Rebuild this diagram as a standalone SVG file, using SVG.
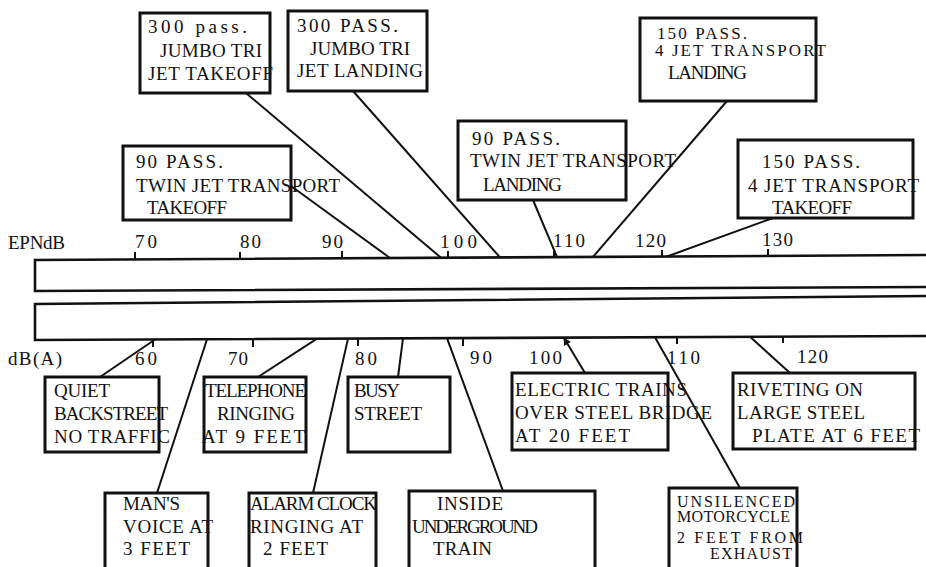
<svg xmlns="http://www.w3.org/2000/svg" width="926" height="567" viewBox="0 0 926 567">
<style>
text{font-family:"Liberation Serif","DejaVu Serif",serif;font-size:19px;fill:#111}
.sm{font-size:16px}
.md{font-size:17px}
.box{fill:#fff;stroke:#111;stroke-width:3}
.bar{fill:#fff;stroke:#111;stroke-width:2.6;stroke-linejoin:miter}
.ln{stroke:#111;stroke-width:2;fill:none}
.tk{stroke:#111;stroke-width:2}
</style>
<defs>
<marker id="ah" markerWidth="8" markerHeight="8" refX="7" refY="4" orient="auto" markerUnits="userSpaceOnUse">
<path d="M0,0 L8,4 L0,8 Z" fill="#111"/>
</marker>
</defs>
<rect width="926" height="567" fill="#fff"/>

<g id="scale">
<path class="bar" d="M930,255 L35,260 L35,291 L930,287"/>
<path class="bar" d="M930,296 L35,304 L35,340 L930,336"/>
<text x="8" y="249" textLength="57" lengthAdjust="spacing">EPNdB</text>
<g class="tk">
<line x1="135" y1="252" x2="135" y2="259.4"/>
<line x1="240" y1="252" x2="240" y2="258.8"/>
<line x1="342" y1="251" x2="342" y2="258.3"/>
<line x1="448" y1="251" x2="448" y2="257.7"/>
<line x1="554" y1="250" x2="554" y2="257.1"/>
<line x1="662" y1="250" x2="662" y2="256.5"/>
<line x1="768" y1="249" x2="768" y2="255.9"/>
<line x1="153" y1="339.5" x2="153" y2="347"/>
<line x1="253" y1="339" x2="253" y2="347"/>
<line x1="358" y1="338.6" x2="358" y2="346"/>
<line x1="463" y1="338.2" x2="463" y2="346"/>
<line x1="677" y1="337.1" x2="677" y2="344"/>
<line x1="783" y1="336.6" x2="783" y2="343"/>
</g>
<text x="135" y="248" textLength="22" lengthAdjust="spacing">70</text>
<text x="240" y="248" textLength="21" lengthAdjust="spacing">80</text>
<text x="322" y="248" textLength="21" lengthAdjust="spacing">90</text>
<text x="440" y="248" textLength="37" lengthAdjust="spacing">100</text>
<text x="553" y="247" textLength="32" lengthAdjust="spacing">110</text>
<text x="635" y="247" textLength="31" lengthAdjust="spacing">120</text>
<text x="762" y="246" textLength="31" lengthAdjust="spacing">130</text>
<text x="8" y="365" textLength="54" lengthAdjust="spacing">dB(A)</text>
<text x="135" y="365" textLength="22" lengthAdjust="spacing">60</text>
<text x="228" y="365" textLength="20" lengthAdjust="spacing">70</text>
<text x="355" y="365" textLength="22" lengthAdjust="spacing">80</text>
<text x="470" y="364" textLength="22" lengthAdjust="spacing">90</text>
<text x="529" y="364" textLength="33" lengthAdjust="spacing">100</text>
<text x="667" y="364" textLength="33" lengthAdjust="spacing">110</text>
<text x="797" y="363" textLength="31" lengthAdjust="spacing">120</text>
</g>

<g id="connectors">
<line class="ln" x1="246" y1="93" x2="441" y2="257.7"/>
<line class="ln" x1="291" y1="186" x2="390" y2="258"/>
<line class="ln" x1="353" y1="91" x2="500" y2="257.4"/>
<line class="ln" x1="533" y1="200" x2="557" y2="257"/>
<line class="ln" x1="727" y1="101" x2="593" y2="256.9"/>
<line class="ln" x1="773" y1="218" x2="667" y2="256.5"/>
<line class="ln" x1="100" y1="377" x2="155" y2="339.5"/>
<line class="ln" x1="258" y1="377" x2="317" y2="338.7"/>
<line class="ln" x1="398" y1="377" x2="403" y2="338.3"/>
<line class="ln" x1="585" y1="373" x2="564" y2="338" marker-end="url(#ah)"/>
<line class="ln" x1="790" y1="373" x2="750" y2="336.8"/>
<line class="ln" x1="157" y1="493" x2="207" y2="339.2"/>
<line class="ln" x1="313" y1="493" x2="348" y2="338.6"/>
<line class="ln" x1="503" y1="491" x2="447" y2="338.2"/>
<line class="ln" x1="740" y1="488" x2="655" y2="337.2"/>
</g>

<g id="n-jumbo-takeoff">
<rect class="box" x="140" y="13" width="130" height="80"/>
<text x="148" y="33" textLength="99" lengthAdjust="spacing">300 pass.</text>
<text x="160" y="57" textLength="102" lengthAdjust="spacing">JUMBO TRI</text>
<text x="148" y="80" textLength="125" lengthAdjust="spacing">JET TAKEOFF</text>
</g>
<g id="n-jumbo-landing">
<rect class="box" x="288" y="11" width="139" height="80"/>
<text x="297" y="32" textLength="101" lengthAdjust="spacing">300 PASS.</text>
<text x="310" y="55" textLength="100" lengthAdjust="spacing">JUMBO TRI</text>
<text x="297" y="77" textLength="126" lengthAdjust="spacing">JET LANDING</text>
</g>
<g id="n-twin-takeoff">
<rect class="box" x="123" y="146" width="168" height="74"/>
<text x="136" y="168" textLength="87" lengthAdjust="spacing">90 PASS.</text>
<text x="136" y="192" textLength="204" lengthAdjust="spacing">TWIN JET TRANSPORT</text>
<text x="147" y="214" textLength="80" lengthAdjust="spacing">TAKEOFF</text>
</g>
<g id="n-twin-landing">
<rect class="box" x="458" y="121" width="168" height="79"/>
<text x="472" y="145" textLength="88" lengthAdjust="spacing">90 PASS.</text>
<text x="470" y="167" textLength="206" lengthAdjust="spacing">TWIN JET TRANSPORT</text>
<text x="483" y="191" textLength="79" lengthAdjust="spacing">LANDING</text>
</g>
<g id="n-4jet-landing">
<rect class="box" x="640" y="18" width="176" height="83"/>
<text class="md" x="657" y="39" textLength="90" lengthAdjust="spacing">150 PASS.</text>
<text class="md" x="655" y="56" textLength="171" lengthAdjust="spacing">4 JET TRANSPORT</text>
<text x="668" y="79" textLength="79" lengthAdjust="spacing">LANDING</text>
</g>
<g id="n-4jet-takeoff">
<rect class="box" x="738" y="140" width="175" height="78"/>
<text x="762" y="168" textLength="98" lengthAdjust="spacing">150 PASS.</text>
<text x="748" y="192" textLength="171" lengthAdjust="spacing">4 JET TRANSPORT</text>
<text x="772" y="214" textLength="80" lengthAdjust="spacing">TAKEOFF</text>
</g>

<g id="n-quiet">
<rect class="box" x="45" y="377" width="114" height="75"/>
<text x="54" y="397" textLength="56" lengthAdjust="spacing">QUIET</text>
<text x="54" y="420" textLength="114" lengthAdjust="spacing">BACKSTREET</text>
<text x="54" y="443" textLength="116" lengthAdjust="spacing">NO TRAFFIC</text>
</g>
<g id="n-telephone">
<rect class="box" x="204" y="377" width="102" height="75"/>
<text x="205" y="397" textLength="101" lengthAdjust="spacing">TELEPHONE</text>
<text x="217" y="420" textLength="78" lengthAdjust="spacing">RINGING</text>
<text x="202" y="443" textLength="103" lengthAdjust="spacing">AT 9 FEET</text>
</g>
<g id="n-busy">
<rect class="box" x="348" y="377" width="102" height="75"/>
<text x="354" y="397" textLength="46" lengthAdjust="spacing">BUSY</text>
<text x="354" y="420" textLength="68" lengthAdjust="spacing">STREET</text>
</g>
<g id="n-electric">
<rect class="box" x="512" y="373" width="156" height="77"/>
<text x="515" y="396" textLength="172" lengthAdjust="spacing">ELECTRIC TRAINS</text>
<text x="515" y="419" textLength="197" lengthAdjust="spacing">OVER STEEL BRIDGE</text>
<text x="515" y="442" textLength="115" lengthAdjust="spacing">AT 20 FEET</text>
</g>
<g id="n-riveting">
<rect class="box" x="733" y="373" width="182" height="76"/>
<text x="737" y="396" textLength="126" lengthAdjust="spacing">RIVETING ON</text>
<text x="737" y="419" textLength="128" lengthAdjust="spacing">LARGE STEEL</text>
<text x="752" y="442" textLength="168" lengthAdjust="spacing">PLATE AT 6 FEET</text>
</g>
<g id="n-mans-voice">
<rect class="box" x="105" y="493" width="103" height="90"/>
<text x="123" y="510" textLength="57" lengthAdjust="spacing">MAN'S</text>
<text x="123" y="533" textLength="90" lengthAdjust="spacing">VOICE AT</text>
<text x="123" y="555" textLength="67" lengthAdjust="spacing">3 FEET</text>
</g>
<g id="n-alarm">
<rect class="box" x="249" y="493" width="127" height="90"/>
<text x="250" y="510" textLength="127" lengthAdjust="spacing">ALARM CLOCK</text>
<text x="250" y="533" textLength="113" lengthAdjust="spacing">RINGING AT</text>
<text x="263" y="555" textLength="65" lengthAdjust="spacing">2 FEET</text>
</g>
<g id="n-underground">
<rect class="box" x="409" y="491" width="186" height="92"/>
<text x="437" y="510" textLength="66" lengthAdjust="spacing">INSIDE</text>
<text x="412" y="533" textLength="126" lengthAdjust="spacing">UNDERGROUND</text>
<text x="433" y="555" textLength="59" lengthAdjust="spacing">TRAIN</text>
</g>
<g id="n-motorcycle">
<rect class="box" x="669" y="488" width="128" height="95"/>
<text class="sm" x="677" y="507" textLength="118" lengthAdjust="spacing">UNSILENCED</text>
<text class="sm" x="677" y="522" textLength="113" lengthAdjust="spacing">MOTORCYCLE</text>
<text class="sm" x="677" y="543" textLength="126" lengthAdjust="spacing">2 FEET FROM</text>
<text class="sm" x="710" y="559" textLength="82" lengthAdjust="spacing">EXHAUST</text>
</g>
</svg>
